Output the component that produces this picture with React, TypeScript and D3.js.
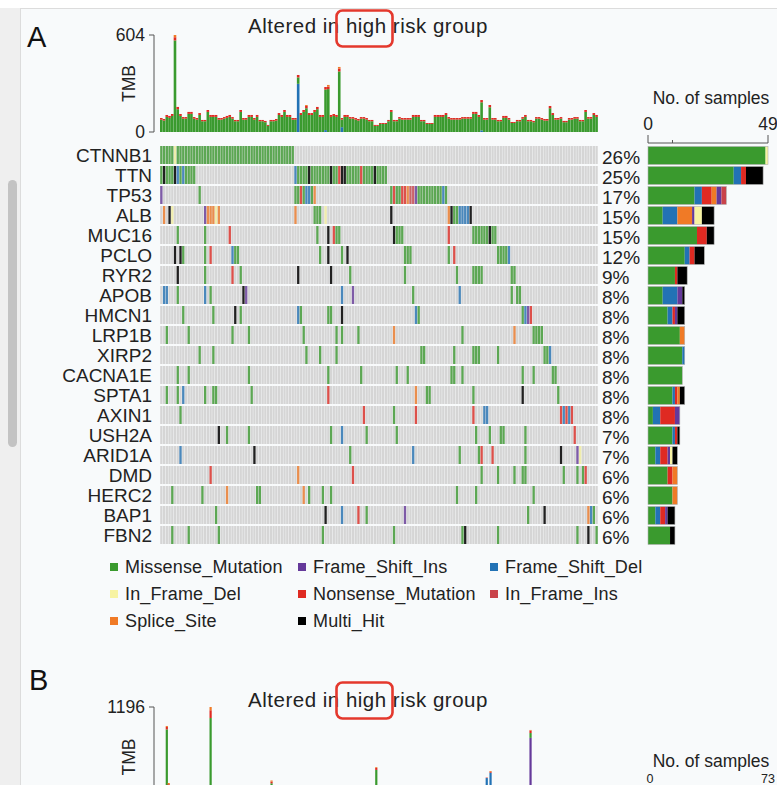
import React from 'react';
import * as d3 from 'd3';

// ---------------- data ----------------
const genes = ['CTNNB1','TTN','TP53','ALB','MUC16','PCLO','RYR2','APOB','HMCN1','LRP1B','XIRP2','CACNA1E','SPTA1','AXIN1','USH2A','ARID1A','DMD','HERC2','BAP1','FBN2'];
const pctLabels = ['26%','25%','17%','15%','15%','12%','9%','8%','8%','8%','8%','8%','8%','8%','7%','7%','6%','6%','6%','6%'];

const typeCodes = ['M','I','D','d','N','i','S','X'];
const typeNames = ['Missense_Mutation','Frame_Shift_Ins','Frame_Shift_Del','In_Frame_Del','Nonsense_Mutation','In_Frame_Ins','Splice_Site','Multi_Hit'];
const typeColors = ['#3a9a2e','#65399a','#2272b5','#f7f3a2','#df2a22','#c9434a','#f07a26','#000000'];
const stackOrder = ['M','D','N','S','I','d','i','X'];

// sample (column) index : variant code, per gene (waterfall order)
const mutations = [
  '0-4:M,5:d,6-48:M',
  '0:M,1:X,2-4:M,5:X,6:D,7:M,8:D,9-12:M,49:D,50-53:M,54:X,55-61:M,62:X,63-64:M,65:N,66:X,67:X,68-72:M,73:N,74-77:M,78:X,79-82:M',
  '0:I,14:M,49-50:M,51:N,52:M,53-54:D,55:M,56:S,84:M,85:N,86-87:M,88-89:N,90:S,91-92:i,93:I,94-102:M,103:D,104:M',
  '1:S,3:X,4:d,16:I,17-19:S,20:d,21:S,49:S,56-58:M,60:d,84:X,105:S,106:X,107-108:M,109-112:D,113:X',
  '6:M,16:M,25:N,57:M,61:X,63:N,64-65:M,85:X,86-88:M,105:N,114-119:M,120:X,121-122:M',
  '5:X,7:X,8:M,16:M,18:N,26:D,27-28:M,58:M,61:X,66:M,68:X,89-91:M,105:M,107:N,123-126:M,127:D',
  '6:X,16:M,26:N,29:M,50:X,62:X,69:M,89:M,108:M,114-117:M,128-129:M',
  '1-2:D,6:M,16:D,18:M,30:X,31:I,66:D,70:I,92:M,109:D,128:M,130-131:M',
  '8:M,19:M,27:X,29:M,50:D,51:M,61-62:M,66:X,93:D,94:M,132:M,133:D,134:I,135:N',
  '2:M,10:M,26:M,32:M,52:M,64:M,66:M,72:M,85:S,110:M,129:S,136-139:M',
  '14:M,19:M,53:M,58:M,64:M,95-96:M,107:M,114-116:M,123:M,140-141:M,142:D',
  '6:M,10:M,32:M,61:M,73:M,86:M,90:M,106-107:M,110:M,132:M,136:M,143-144:M',
  '2:M,6:M,8:D,16:M,19-20:M,33:M,61:N,93:S,97-98:M,114:M,132:X,145:M',
  '7:M,74:N,85:M,93:N,114:N,118-119:D,146:N,147:D,148:N,149:D,150:N',
  '21:X,24:M,32:M,62:M,66:D,75:M,86:M,115:M,120:M,124-125:M,133:M,151:N',
  '7:D,34:X,69:M,92:D,109:M,116:M,117:N,121:N,133:M,146:X,152:I,153:d',
  '18:N,50:S,70:N,117:M,123:M,129:M,132-133:M,147:M,152:M,154:M,155:N',
  '4:M,15:M,24:S,35-36:M,52:S,54:M,59:M,62:M,108:M,115:M,136:M',
  '20:M,60:X,66:D,72:N,75:M,89:I,134:M,140:X,156:S,157:D,158:M',
  '4:M,10:M,21:M,59:M,85:M,110:M,111:X,123:M,152:M,156:X,159:M',
];

// number of samples per gene and variant class (right bar chart)
const barCounts = [
  'M48,d1','M35,D3,N2,X7','M19,D3,N4,S2,I2,i2','M6,D6,S6,I1,d3,X5','M20,N4,X3',
  'M15,D2,N2,X4','M11,N1,X4','M6,D6,I2,X1','M8,D2,N1,I1,X3','M13,S2',
  'M14,D1','M14','M10,D1,N1,S1,X2','M2,D3,N6,I2','M10,D1,N1,X1',
  'M3,D2,N3,I1,d1,X2','M8,N2,S2','M10,S2','M3,D2,N2,I1,X3','M9,X2',
];

// TMB per sample (panel A)
const tmbTotal = [
  87,81,106,100,112,604,156,112,93,93,
  125,125,93,87,118,75,75,137,106,106,
  106,87,87,93,100,106,93,75,75,137,
  87,87,106,106,87,106,75,75,69,44,
  75,75,81,118,106,137,106,106,87,87,
  355,118,137,168,118,118,137,156,106,106,
  280,293,106,112,106,405,87,106,106,93,
  93,87,81,93,93,87,75,75,44,44,
  56,56,56,75,137,75,75,93,87,87,
  87,87,106,106,106,75,75,56,56,56,
  106,106,106,106,118,93,87,87,87,87,
  93,93,93,93,125,125,106,199,87,87,
  168,87,87,75,75,100,100,87,62,62,
  75,75,93,106,75,75,69,93,93,87,
  81,81,162,118,87,87,93,69,69,87,
  87,93,93,75,75,137,93,93,118,106,
];
const tmbNonsense = [
  10,10,12,12,12,20,14,12,10,10,
  12,12,10,10,12,8,8,12,12,12,
  12,10,10,10,12,12,10,8,8,12,
  10,10,12,12,10,12,8,8,8,6,
  8,8,10,12,12,12,12,12,10,10,
  15,12,12,14,12,12,12,14,12,12,
  16,16,12,12,12,18,10,12,12,10,
  10,10,10,10,10,10,8,8,6,6,
  6,6,6,8,12,8,8,10,10,10,
  10,10,12,12,12,8,8,6,6,6,
  12,12,12,12,12,10,10,10,10,10,
  10,10,10,10,12,12,12,14,10,10,
  14,10,10,8,8,12,12,10,6,6,
  8,8,10,12,8,8,8,10,10,10,
  10,10,14,12,10,10,10,8,8,10,
  10,10,10,8,8,12,10,10,12,12,
];
const tmbDelPairs: [number, number][] = [[50, 300], [66, 30], [60, 12], [117, 10]];
const tmbSplicePairs: [number, number][] = [[5, 14], [61, 10], [65, 10], [53, 6]];

// panel B (partially visible): [sample, missense, frameShiftIns, frameShiftDel, nonsense, splice]
const tmbB: [number, number, number, number, number, number][] = [
  [3, 920, 0, 0, 30, 12],
  [4, 230, 0, 0, 14, 15],
  [26, 1060, 0, 0, 96, 40],
  [58, 255, 0, 0, 20, 15],
  [113, 420, 0, 0, 24, 10],
  [171, 0, 0, 320, 6, 0],
  [173, 0, 0, 385, 12, 10],
  [194, 60, 815, 0, 30, 8],
];

const titleText = ['Altered in', 'high', 'risk group'];

// ---------------- helpers ----------------
const FONT = '"Liberation Sans", Arial, Helvetica, sans-serif';
const colorOf = (t: string) => typeColors[typeCodes.indexOf(t)];

function parseMut(s: string) {
  const out: { c: number; t: string }[] = [];
  s.split(',').forEach((tok) => {
    const [r, t] = tok.split(':');
    const parts = r.split('-').map(Number);
    const a = parts[0];
    const b = parts.length > 1 ? parts[1] : a;
    for (let c = a; c <= b; c++) out.push({ c, t });
  });
  return out;
}
function parseCounts(s: string) {
  const m: Record<string, number> = {};
  s.split(',').forEach((tok) => { m[tok[0]] = Number(tok.slice(1)); });
  return stackOrder.filter((k) => m[k]).map((k) => ({ t: k, n: m[k] }));
}

// ---------------- component ----------------
export default function App() {
  const N = tmbTotal.length;
  const xCol = d3.scaleBand<number>().domain(d3.range(N)).range([160, 598]);
  const yRow = d3.scaleBand<string>().domain(genes).range([145, 545]).paddingInner(0.1).paddingOuter(0.05);
  const yT = d3.scaleLinear().domain([0, 604]).range([132, 35]);
  const xB = d3.scaleLinear().domain([0, 49]).range([648, 768]);

  const NB = 230;
  const xColB = d3.scaleBand<number>().domain(d3.range(NB)).range([160, 598]);
  const yTB = d3.scaleLinear().domain([0, 1196]).range([804, 707]);

  const cw = xCol.bandwidth();
  const rh = yRow.bandwidth();

  const delMap = new Map(tmbDelPairs);
  const spMap = new Map(tmbSplicePairs);

  const tmbStacks = tmbTotal.map((tot, i) => {
    const del = delMap.get(i) || 0;
    const sp = spMap.get(i) || 0;
    const non = tmbNonsense[i];
    const mis = tot - del - sp - non;
    const segs = [
      { t: 'D', v: del },
      { t: 'M', v: mis },
      { t: 'N', v: non },
      { t: 'S', v: sp },
    ];
    let acc = 0;
    return segs.map((s) => { const y0 = acc; acc += s.v; return { ...s, y0, y1: acc }; });
  });

  const legendCols = [110, 298, 490];
  const legendRows = [567, 594, 621];

  return (
    <svg width={777} height={785} style={{ position: 'absolute', left: 0, top: 0 }} fontFamily={FONT}>
      <rect x={0} y={0} width={777} height={785} fill="#ffffff" />
      <rect x={0} y={8} width={20} height={777} fill="#efefef" />
      <rect x={8} y={180} width={9} height={267} rx={4.5} fill="#c3c3c3" />
      <rect x={20.5} y={8.5} width={760} height={780} fill="#f8fafb" stroke="#dcdcdc" />

      {/* ===== Panel A ===== */}
      <text x={27} y={47} fontSize={29} fill="#111">A</text>
      <text x={368} y={33} fontSize={20.5} fill="#222" textAnchor="middle" letterSpacing={0.5}>
        {titleText.join(' ')}
      </text>
      <rect x={336.5} y={10.5} width={56} height={36} rx={6} fill="none" stroke="#e4382d" strokeWidth={2.6} />

      {/* TMB axis */}
      <line x1={154} x2={154} y1={yT(604)} y2={yT(0)} stroke="#555" />
      {[0, 604].map((v) => (
        <g key={v}>
          <line x1={149} x2={154} y1={yT(v)} y2={yT(v)} stroke="#555" />
          <text x={145} y={yT(v)} dy="0.35em" textAnchor="end" fontSize={17.5} fill="#222">{v}</text>
        </g>
      ))}
      <text transform={`translate(135,${(yT(0) + yT(604)) / 2}) rotate(-90)`} textAnchor="middle" fontSize={17.5} fill="#222">TMB</text>

      {/* TMB bars */}
      {tmbStacks.map((segs, i) =>
        segs.filter((s) => s.v > 0).map((s) => (
          <rect key={`${i}-${s.t}`} x={xCol(i)!} width={cw * 0.95} y={yT(s.y1)} height={yT(s.y0) - yT(s.y1)} fill={colorOf(s.t)} />
        ))
      )}

      {/* grid background */}
      {genes.map((g) => (
        <g key={g}>
          {d3.range(N).map((c) => (
            <rect key={c} x={xCol(c)! + 0.2} y={yRow(g)!} width={cw - 0.45} height={rh} fill="#d5d5d5" />
          ))}
        </g>
      ))}
      {/* mutated cells */}
      {mutations.map((s, gi) =>
        parseMut(s).map((m) => (
          <rect key={`${gi}-${m.c}`} x={xCol(m.c)! + 0.2} y={yRow(genes[gi])!} width={cw - 0.45} height={rh} fill={colorOf(m.t)} fillOpacity={m.t === 'X' ? 0.85 : 0.78} />
        ))
      )}

      {/* gene labels */}
      {genes.map((g) => (
        <text key={g} x={152} y={yRow(g)! + rh / 2} dy="0.36em" textAnchor="end" fontSize={19} fill="#222">{g}</text>
      ))}
      {/* percent labels */}
      {pctLabels.map((p, i) => (
        <text key={i} x={602} y={yRow(genes[i])! + rh / 2 + 2} dy="0.36em" fontSize={19} fill="#222">{p}</text>
      ))}

      {/* right bars */}
      <text x={711} y={98} dy="0.35em" textAnchor="middle" fontSize={17.5} fill="#222">No. of samples</text>
      <text x={xB(0)} y={124} dy="0.35em" textAnchor="middle" fontSize={17.5} fill="#222">0</text>
      <text x={xB(49)} y={124} dy="0.35em" textAnchor="middle" fontSize={17.5} fill="#222">49</text>
      <path d={`M${xB(0)},135V143H${xB(49)}V135`} fill="none" stroke="#555" />
      <line x1={xB(10)} x2={xB(10)} y1={140} y2={143} stroke="#555" />
      {barCounts.map((s, gi) => {
        const segs = parseCounts(s);
        let acc = 0;
        const y = yRow(genes[gi])! + 0.5;
        const items = segs.map((sg) => {
          const x0 = acc; acc += sg.n;
          return <rect key={sg.t} x={xB(x0)} y={y} width={xB(acc) - xB(x0)} height={rh} fill={colorOf(sg.t)} />;
        });
        return (
          <g key={gi}>
            {items}
            <rect x={xB(0)} y={y} width={xB(acc) - xB(0)} height={rh} fill="none" stroke="#b0b0b0" strokeWidth={0.6} />
          </g>
        );
      })}

      {/* legend */}
      {typeNames.map((nm, i) => {
        const cx = legendCols[i % 3];
        const cy = legendRows[Math.floor(i / 3)];
        return (
          <g key={nm}>
            <rect x={cx} y={cy - 4} width={8} height={8} fill={typeColors[i]} />
            <text x={cx + 15} y={cy} dy="0.36em" fontSize={18} fill="#222" letterSpacing={0.15}>{nm}</text>
          </g>
        );
      })}

      {/* ===== Panel B ===== */}
      <text x={29} y={690} fontSize={29} fill="#111">B</text>
      <text x={368} y={707} fontSize={20.5} fill="#222" textAnchor="middle" letterSpacing={0.5}>
        {titleText.join(' ')}
      </text>
      <rect x={336.5} y={682.5} width={56} height={36} rx={6} fill="none" stroke="#e4382d" strokeWidth={2.6} />
      <line x1={154} x2={154} y1={yTB(1196)} y2={790} stroke="#555" />
      <line x1={149} x2={154} y1={yTB(1196)} y2={yTB(1196)} stroke="#555" />
      <text x={145} y={yTB(1196)} dy="0.35em" textAnchor="end" fontSize={17.5} fill="#222">1196</text>
      <text transform={`translate(135,757) rotate(-90)`} textAnchor="middle" fontSize={17.5} fill="#222">TMB</text>
      {tmbB.map(([c, mis, ins, del, non, sp]) => {
        const segs = [
          { t: 'D', v: del },
          { t: 'I', v: ins },
          { t: 'M', v: mis },
          { t: 'N', v: non },
          { t: 'S', v: sp },
        ];
        let acc = 0;
        return (
          <g key={c}>
            {segs.filter((s) => s.v > 0).map((s) => {
              const y0 = acc; acc += s.v;
              return <rect key={s.t} x={xColB(c)!} width={2.2} y={yTB(acc)} height={yTB(y0) - yTB(acc)} fill={colorOf(s.t)} />;
            })}
          </g>
        );
      })}
      <text x={711} y={761} dy="0.35em" textAnchor="middle" fontSize={17.5} fill="#222">No. of samples</text>
      <text x={650} y={779} dy="0.35em" textAnchor="middle" fontSize={12.5} fill="#222">0</text>
      <text x={768} y={779} dy="0.35em" textAnchor="middle" fontSize={12.5} fill="#222">73</text>
    </svg>
  );
}
